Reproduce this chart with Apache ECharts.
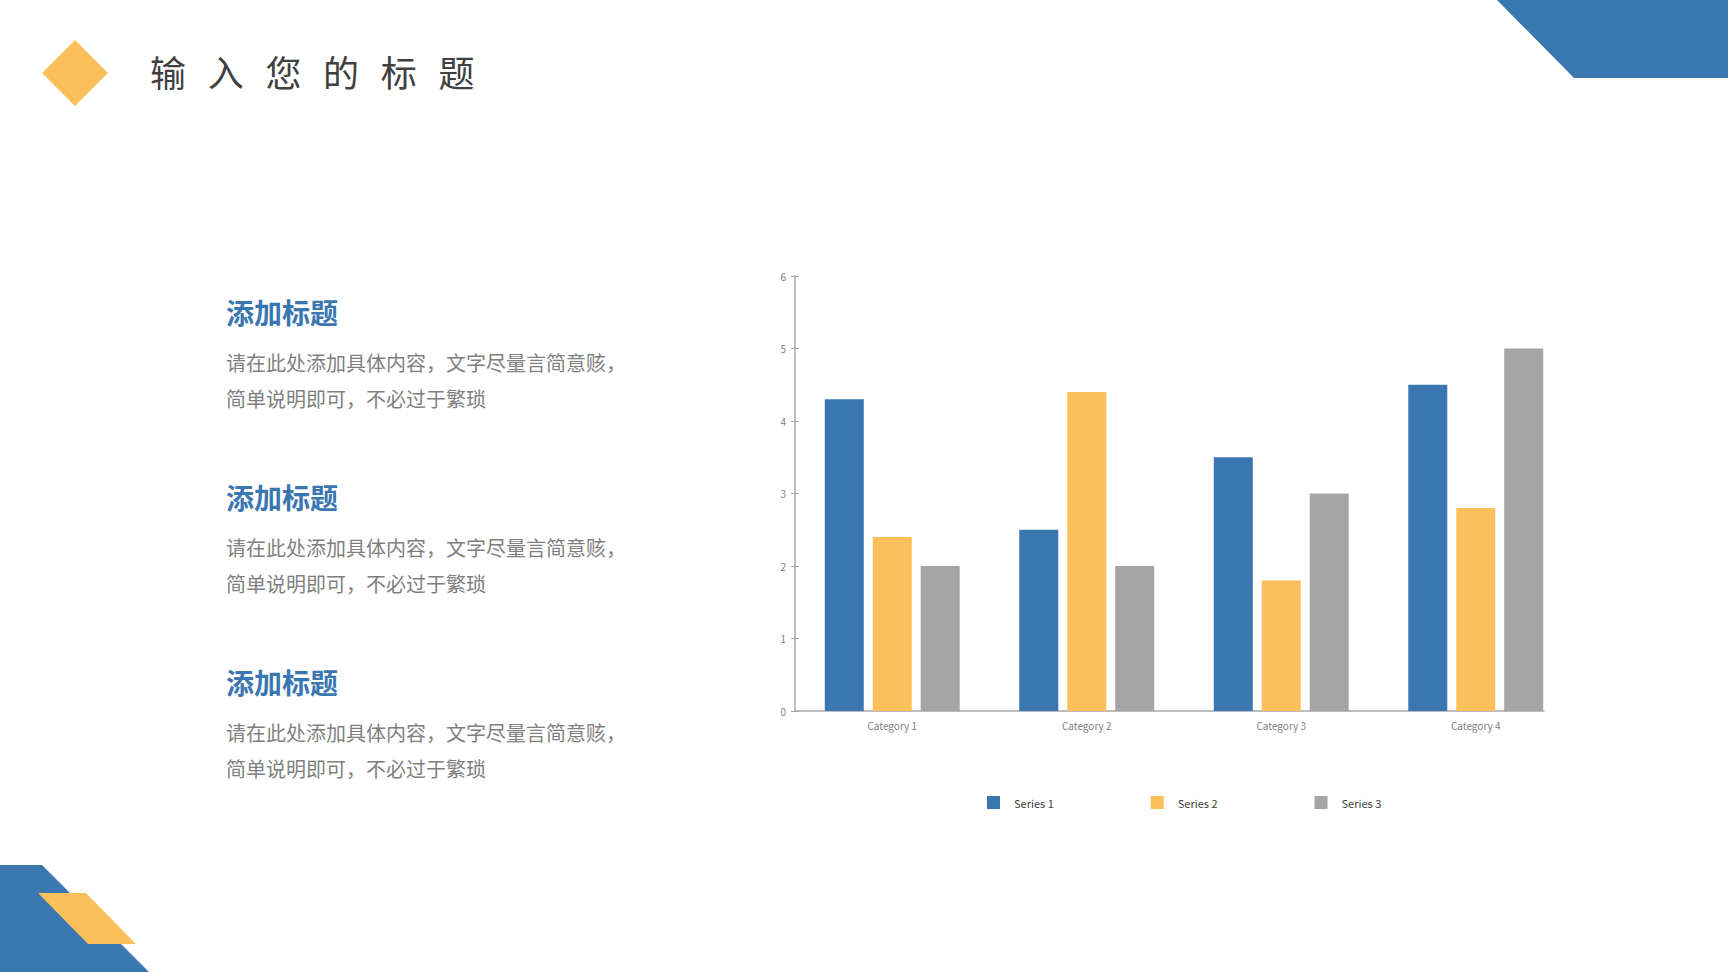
<!DOCTYPE html>
<html>
<head>
<meta charset="utf-8">
<script src="https://cdn.jsdelivr.net/npm/echarts@6/dist/echarts.min.js"></script>
<style>
html,body{margin:0;padding:0;background:#fff;}
#main{width:1728px;height:972px;}
</style>
</head>
<body>
<div id="main"></div>
<script>
const categories = ['Category 1', 'Category 2', 'Category 3', 'Category 4'];
const seriesNames = ['Series 1', 'Series 2', 'Series 3'];
const series1 = [4.3, 2.5, 3.5, 4.5];
const series2 = [2.4, 4.4, 1.8, 2.8];
const series3 = [2, 2, 3, 5];
const yTicks = [0, 1, 2, 3, 4, 5, 6];
const pageTitle = '输入您的标题';
const blockTitles = ['添加标题', '添加标题', '添加标题'];
const blockLine1 = '请在此处添加具体内容，文字尽量言简意赅，';
const blockLine2 = '简单说明即可，不必过于繁琐';

const BLUE = '#3A76B0', YELLOW = '#FBC05B', GREY = '#A5A5A5';
const cjk = '"Noto Sans CJK SC", "Noto Sans", sans-serif';

const chart = echarts.init(document.getElementById('main'), null, {renderer: 'svg'});

const graphics = [
  {type: 'polygon', shape: {points: [[1497,0],[1728,0],[1728,78],[1574,78]]}, style: {fill: BLUE}},
  {type: 'polygon', shape: {points: [[0,865],[42,865],[149,972],[0,972]]}, style: {fill: BLUE}},
  {type: 'polygon', shape: {points: [[38,893],[86,893],[136,944],[88,944]]}, style: {fill: YELLOW}},
  {type: 'polygon', shape: {points: [[75,40],[108,73],[75,106],[42,73]]}, style: {fill: YELLOW}},
];
pageTitle.split('').forEach((ch, i) => {
  graphics.push({type: 'text', x: 150 + i * 57.7, y: 71,
    style: {text: ch, font: '36px ' + cjk, fill: '#404040', verticalAlign: 'middle'}});
});
const headY = [312, 497, 682];
blockTitles.forEach((t, i) => {
  graphics.push({type: 'text', x: 226, y: headY[i],
    style: {text: t, font: 'bold 28px ' + cjk, fill: BLUE, verticalAlign: 'middle'}});
  graphics.push({type: 'text', x: 226, y: headY[i] + 50,
    style: {text: blockLine1, font: '20px ' + cjk, fill: '#7F7F7F', verticalAlign: 'middle'}});
  graphics.push({type: 'text', x: 226, y: headY[i] + 86,
    style: {text: blockLine2, font: '20px ' + cjk, fill: '#7F7F7F', verticalAlign: 'middle'}});
});

const mkSeries = (name, data, color) => ({
  name, type: 'bar', data, barWidth: 39, barGap: '23%',
  itemStyle: {color}, xAxisIndex: 0, yAxisIndex: 0
});

chart.setOption({
  animation: false,
  graphic: graphics,
  grid: [
    {left: 795, right: 155, top: 276, bottom: 261, containLabel: false},
    {left: 795, right: 184, top: 276, bottom: 261, containLabel: false}
  ],
  legend: {
    data: seriesNames, left: 987, top: 796, icon: 'rect', itemWidth: 13, itemHeight: 13,
    itemGap: 97, padding: 0,
    textStyle: {fontSize: 11, color: '#404040', fontFamily: cjk, width: 50, padding: [0,0,0,9]}
  },
  xAxis: [{
    type: 'category', data: categories, gridIndex: 0,
    axisLine: {show: false},
    axisTick: {show: false},
    axisLabel: {fontSize: 10, color: '#808080', margin: 9, fontFamily: cjk}
  }, {
    type: 'category', data: categories, gridIndex: 1,
    axisLine: {show: true, lineStyle: {color: '#A6A6A6', width: 1.5}},
    axisTick: {show: false},
    axisLabel: {show: false}
  }],
  yAxis: [{
    type: 'value', gridIndex: 0, min: yTicks[0], max: yTicks[yTicks.length-1], interval: 1,
    splitLine: {show: false},
    axisLine: {show: true, lineStyle: {color: '#A6A6A6', width: 1.5}},
    axisTick: {show: true, length: 4, lineStyle: {color: '#A6A6A6'}},
    axisLabel: {fontSize: 10, color: '#808080', margin: 9, fontFamily: cjk}
  }, {
    type: 'value', gridIndex: 1, min: yTicks[0], max: yTicks[yTicks.length-1], interval: 1,
    splitLine: {show: false},
    axisLine: {show: false},
    axisTick: {show: true, inside: true, length: 4, lineStyle: {color: '#A6A6A6'}},
    axisLabel: {show: false}
  }],
  series: [
    mkSeries(seriesNames[0], series1, BLUE),
    mkSeries(seriesNames[1], series2, YELLOW),
    mkSeries(seriesNames[2], series3, GREY)
  ]
});
</script>
</body>
</html>
